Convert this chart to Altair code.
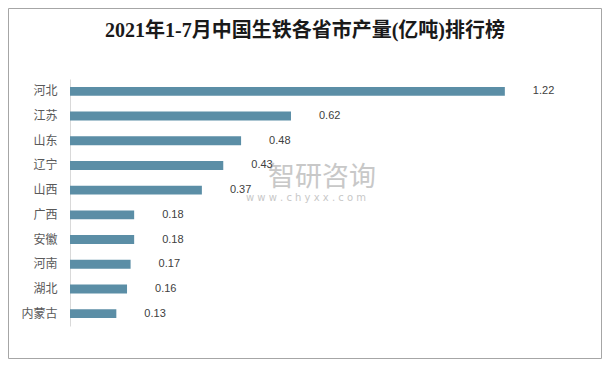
import altair as alt
import pandas as pd

provinces = ["河北", "江苏", "山东", "辽宁", "山西", "广西", "安徽", "河南", "湖北", "内蒙古"]
values = [1.22, 0.62, 0.48, 0.43, 0.37, 0.18, 0.18, 0.17, 0.16, 0.13]
title_text = "2021年1-7月中国生铁各省市产量(亿吨)排行榜"
watermark_main = "智研咨询"
watermark_sub = "w w w . c h y x x . c o m"

df = pd.DataFrame({"province": provinces, "value": values})

W, H = 499, 247
CJK = "Noto Sans CJK SC"

y = alt.Y(
    "province:N", sort=provinces, title=None,
    scale=alt.Scale(paddingInner=0.64, paddingOuter=0.32),
    axis=alt.Axis(ticks=False, labelPadding=13, domainColor="#d9d9d9",
                  labelFontSize=12, labelColor="#595959", labelFont=CJK, grid=False),
)
x = alt.X("value:Q", scale=alt.Scale(domain=[0, 1.4], nice=False), axis=None)

base = alt.Chart(df)
bars = base.mark_bar(color="#5b8ea6").encode(x=x, y=y)
labels = base.mark_text(align="left", baseline="middle", dx=28, fontSize=11,
                        color="#404040", font="Liberation Sans").encode(
    x=x, y=y, text=alt.Text("value:Q", format=".2f"))

wm = alt.Chart(pd.DataFrame({"t": [watermark_main]})).mark_text(
    fontSize=27, align="center", baseline="alphabetic", font=CJK, color="#c8c8c8"
).encode(x=alt.value(252), y=alt.value(107), text="t:N")
wm2 = alt.Chart(pd.DataFrame({"t": [watermark_sub]})).mark_text(
    fontSize=10, align="center", baseline="alphabetic", font="DejaVu Sans", color="#c8c8c8"
).encode(x=alt.value(236), y=alt.value(122), text="t:N")

title = alt.Chart(pd.DataFrame({"t": [title_text]})).mark_text(
    fontSize=20, align="center", baseline="alphabetic",
    font="Liberation Serif, Noto Sans CJK SC", fontWeight="bold", color="#1a1a1a"
).encode(x=alt.value(235), y=alt.value(-42), text="t:N")

border = alt.Chart(pd.DataFrame({"a": [0]})).mark_rect(
    fill="transparent", stroke="#a6a6a6", strokeWidth=1
).encode(x=alt.value(-61.5), x2=alt.value(W + 32.5),
         y=alt.value(-70.5), y2=alt.value(H + 32.5))

chart = alt.layer(wm, wm2, bars, labels, title, border).properties(
    width=W, height=H,
    padding={"left": 62, "top": 71, "right": 33, "bottom": 33},
    autosize=alt.AutoSizeParams(type="none"),
    background="white",
).configure_view(strokeWidth=0)

chart.save("out.html", embed_options={"renderer": "svg", "actions": False})
